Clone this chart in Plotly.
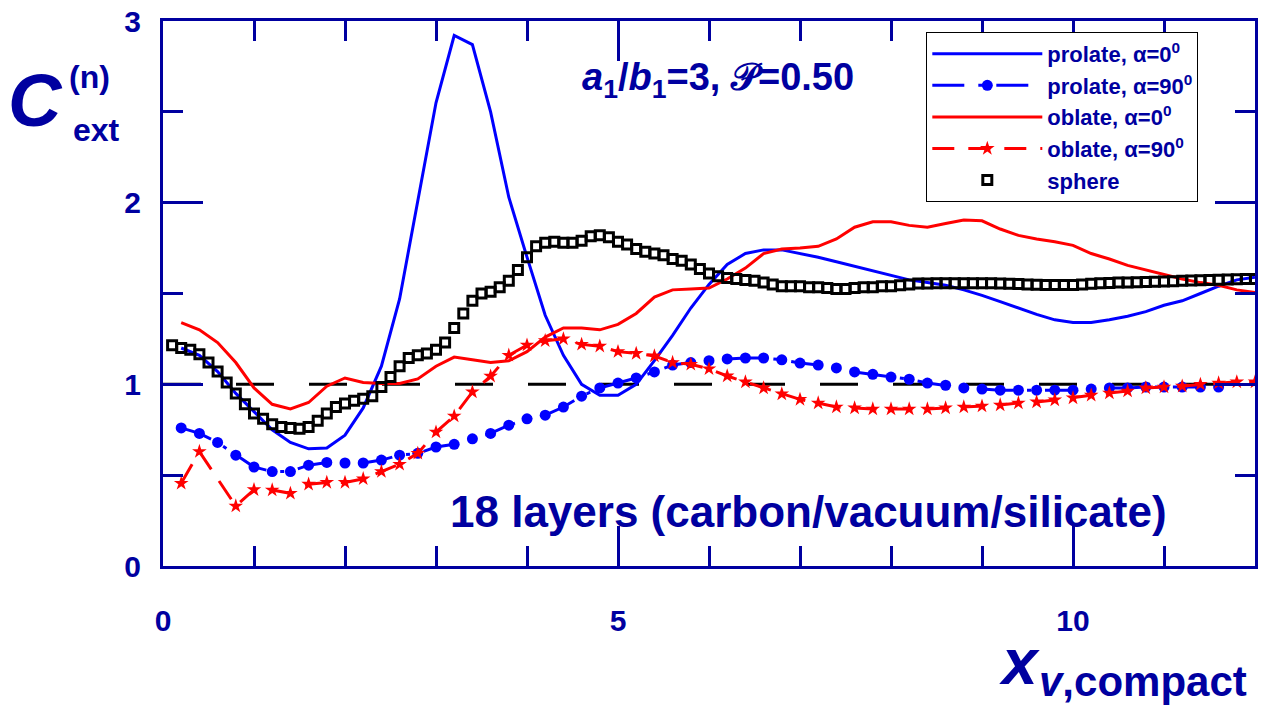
import plotly.graph_objects as go

# ---------------- data ----------------
sphere_x = [round(0.1 * i, 1) for i in range(1, 121)]
sphere_y = [1.215, 1.20, 1.19, 1.165, 1.12, 1.07, 1.01, 0.95, 0.89, 0.84,
            0.81, 0.78, 0.765, 0.76, 0.755, 0.765, 0.80, 0.84, 0.875, 0.895,
            0.91, 0.92, 0.935, 0.985, 1.04, 1.10, 1.145, 1.16, 1.17, 1.19,
            1.23, 1.31, 1.39, 1.46, 1.50, 1.51, 1.535, 1.57, 1.63, 1.70,
            1.76, 1.78, 1.785, 1.78, 1.78, 1.79, 1.815, 1.82, 1.81, 1.785,
            1.77, 1.745, 1.73, 1.72, 1.71, 1.69, 1.68, 1.66, 1.635, 1.61,
            1.595, 1.585, 1.58, 1.575, 1.57, 1.56, 1.55, 1.54, 1.54, 1.54,
            1.535, 1.535, 1.53, 1.525, 1.525, 1.53, 1.535, 1.535, 1.54, 1.54,
            1.545, 1.55, 1.555, 1.555, 1.557, 1.557, 1.557, 1.557, 1.557, 1.557,
            1.557, 1.555, 1.553, 1.552, 1.55, 1.548, 1.547, 1.547, 1.547, 1.547,
            1.55, 1.553, 1.557, 1.558, 1.56, 1.56, 1.562, 1.563, 1.565, 1.566,
            1.568, 1.57, 1.572, 1.573, 1.575, 1.576, 1.577, 1.578, 1.58, 1.58]

prolate0_x = [0.2, 0.4, 0.6, 0.8, 1.0, 1.2, 1.4, 1.6, 1.8, 2.0, 2.2, 2.4, 2.6, 2.8,
              3.0, 3.2, 3.4, 3.6, 3.8, 4.0, 4.2, 4.4, 4.6, 4.8, 5.0, 5.2, 5.4, 5.6,
              5.8, 6.0, 6.2, 6.4, 6.6, 6.8, 7.0, 7.2, 7.4, 7.6, 7.8, 8.0, 8.2, 8.4,
              8.6, 8.8, 9.0, 9.2, 9.4, 9.6, 9.8, 10.0, 10.2, 10.4, 10.6, 10.8, 11.0,
              11.2, 11.4, 11.6, 11.8, 12.0]
prolate0_y = [1.20, 1.16, 1.07, 0.95, 0.85, 0.75, 0.68, 0.645, 0.65, 0.72, 0.87, 1.10,
              1.47, 2.01, 2.55, 2.92, 2.87, 2.50, 2.03, 1.70, 1.38, 1.16, 1.00, 0.94,
              0.94, 1.00, 1.13, 1.27, 1.42, 1.55, 1.66, 1.72, 1.74, 1.74, 1.72, 1.70,
              1.675, 1.65, 1.625, 1.60, 1.575, 1.56, 1.545, 1.52, 1.49, 1.455, 1.42,
              1.385, 1.355, 1.34, 1.34, 1.355, 1.375, 1.40, 1.435, 1.46, 1.50, 1.54,
              1.575, 1.59]

prolate90_x = [0.2, 0.4, 0.6, 0.8, 1.0, 1.2, 1.4, 1.6, 1.8, 2.0, 2.2, 2.4, 2.6, 2.8,
               3.0, 3.2, 3.4, 3.6, 3.8, 4.0, 4.2, 4.4, 4.6, 4.8, 5.0, 5.2, 5.4, 5.6,
               5.8, 6.0, 6.2, 6.4, 6.6, 6.8, 7.0, 7.2, 7.4, 7.6, 7.8, 8.0, 8.2, 8.4,
               8.6, 8.8, 9.0, 9.2, 9.4, 9.6, 9.8, 10.0, 10.2, 10.4, 10.6, 10.8, 11.0,
               11.2, 11.4, 11.6]
prolate90_y = [0.76, 0.73, 0.68, 0.61, 0.545, 0.52, 0.52, 0.555, 0.57, 0.567, 0.567,
               0.583, 0.61, 0.62, 0.655, 0.67, 0.70, 0.73, 0.775, 0.81, 0.83, 0.875,
               0.935, 0.98, 1.007, 1.035, 1.068, 1.106, 1.12, 1.13, 1.14, 1.145, 1.145,
               1.135, 1.117, 1.106, 1.09, 1.068, 1.055, 1.04, 1.028, 1.007, 0.995, 0.98,
               0.974, 0.968, 0.968, 0.968, 0.968, 0.968, 0.974, 0.98, 0.98, 0.985,
               0.985, 0.985, 0.985, 0.985]

oblate0_x = prolate0_x
oblate0_y = [1.34, 1.30, 1.23, 1.12, 0.98, 0.89, 0.865, 0.90, 0.99, 1.035, 1.01, 1.005,
             1.005, 1.03, 1.10, 1.15, 1.135, 1.12, 1.13, 1.18, 1.26, 1.31, 1.31, 1.30,
             1.33, 1.39, 1.48, 1.52, 1.525, 1.53, 1.58, 1.64, 1.72, 1.745, 1.75, 1.76,
             1.80, 1.865, 1.895, 1.895, 1.875, 1.865, 1.885, 1.905, 1.90, 1.855, 1.82,
             1.80, 1.785, 1.765, 1.72, 1.69, 1.655, 1.63, 1.605, 1.58, 1.56, 1.545,
             1.52, 1.505]

oblate90_x = [0.2, 0.4, 0.8, 1.0, 1.2, 1.4, 1.6, 1.8, 2.0, 2.2, 2.4, 2.6, 2.8,
              3.0, 3.2, 3.4, 3.6, 3.8, 4.0, 4.2, 4.4, 4.6, 4.8, 5.0, 5.2, 5.4, 5.6,
              5.8, 6.0, 6.2, 6.4, 6.6, 6.8, 7.0, 7.2, 7.4, 7.6, 7.8, 8.0, 8.2, 8.4,
              8.6, 8.8, 9.0, 9.2, 9.4, 9.6, 9.8, 10.0, 10.2, 10.4, 10.6, 10.8, 11.0,
              11.2, 11.4, 11.6, 11.8, 12.0]
oblate90_y = [0.455, 0.63, 0.33, 0.42, 0.418, 0.40, 0.45, 0.46, 0.46, 0.48, 0.52, 0.56,
              0.62, 0.737, 0.825, 0.958, 1.045, 1.16, 1.216, 1.24, 1.25, 1.22, 1.21,
              1.18, 1.17, 1.156, 1.12, 1.11, 1.085, 1.046, 1.013, 0.98, 0.947, 0.917,
              0.897, 0.875, 0.87, 0.864, 0.864, 0.864, 0.864, 0.87, 0.875, 0.88, 0.886,
              0.897, 0.903, 0.914, 0.925, 0.94, 0.952, 0.963, 0.98, 0.985, 0.99, 1.0,
              1.007, 1.013, 1.013]

ref_x = [0, 12]
ref_y = [1, 1]

x_tick_vals = [0, 5, 10]
y_tick_vals = [0, 1, 2, 3]

legend_names = ["prolate, α=0<sup>0</sup>", "prolate, α=90<sup>0</sup>",
                "oblate, α=0<sup>0</sup>", "oblate, α=90<sup>0</sup>", "sphere"]

# ---------------- styles ----------------
NAVY = "#0000A0"
FONT = "Liberation Sans, Arial, sans-serif"

fig = go.Figure()

fig.add_trace(go.Scatter(x=ref_x, y=ref_y, mode="lines", showlegend=False,
                         line=dict(color="black", width=3, dash="38px,35px"),
                         hoverinfo="skip"))

fig.add_trace(go.Scatter(x=prolate0_x, y=prolate0_y, mode="lines", name=legend_names[0],
                         legendgroup="g1", line=dict(color="#0000FF", width=3)))
fig.add_trace(go.Scatter(x=prolate90_x, y=prolate90_y, mode="lines+markers",
                         name=legend_names[1], legendgroup="g2",
                         line=dict(color="#0000FF", width=3, dash="32px,14px,4px,14px"),
                         marker=dict(symbol="circle", size=11, color="#0000FF")))
fig.add_trace(go.Scatter(x=oblate0_x, y=oblate0_y, mode="lines", name=legend_names[2],
                         legendgroup="g3", line=dict(color="#FF0000", width=3)))
fig.add_trace(go.Scatter(x=oblate90_x, y=oblate90_y, mode="lines+markers",
                         name=legend_names[3], legendgroup="g4",
                         line=dict(color="#FF0000", width=3, dash="22px,14px"),
                         marker=dict(symbol="star", size=11, color="#FF0000")))
fig.add_trace(go.Scatter(x=sphere_x, y=sphere_y, mode="markers", name=legend_names[4],
                         legendgroup="g5",
                         marker=dict(symbol="square-open", size=9, color="black",
                                     line=dict(width=3, color="black"))))

axis_common = dict(
    showline=True, linecolor=NAVY, linewidth=3, mirror="ticks",
    ticks="inside", ticklen=40, tickwidth=3, tickcolor=NAVY,
    showgrid=False, zeroline=False, automargin=False,
    tickfont=dict(family=FONT, size=30, color=NAVY, weight="bold"),
)

fig.update_xaxes(range=[0, 12], tickvals=x_tick_vals, ticklabelstandoff=26,
                 minor=dict(dtick=1, tick0=0, ticks="inside", ticklen=20, tickwidth=3,
                            tickcolor=NAVY, showgrid=False),
                 **axis_common)
fig.update_yaxes(range=[0, 3], tickvals=y_tick_vals, ticklabelstandoff=13,
                 minor=dict(dtick=0.5, tick0=0, ticks="inside", ticklen=20, tickwidth=3,
                            tickcolor=NAVY, showgrid=False),
                 **axis_common)

def ann(text, x, y, size, xanchor="center", yanchor="middle"):
    return dict(text=text, x=x, y=y, xref="paper", yref="paper", showarrow=False,
                xanchor=xanchor, yanchor=yanchor,
                font=dict(family=FONT, size=size, color=NAVY, weight="bold"))

annotations = [
    ann("<i>C</i>", -0.117, 0.855, 74),
    ann("(n)", -0.067, 0.898, 32),
    ann("ext", -0.061, 0.800, 32),
    ann("<i>x</i>", 0.784, -0.176, 64),
    ann("<i>v</i>,compact", 0.800, -0.212, 42, xanchor="left"),
    ann("<i>a</i><sub>1</sub>/<i>b</i><sub>1</sub>=3, 𝒫=0.50", 0.508, 0.892, 38),
    ann("18 layers (carbon/vacuum/silicate)", 0.591, 0.100, 44),
]

fig.update_layout(
    width=1261, height=711,
    margin=dict(l=163, r=6, t=21, b=145, autoexpand=False),
    paper_bgcolor="white", plot_bgcolor="white",
    font=dict(family=FONT, color=NAVY),
    annotations=annotations,
    showlegend=True,
    legend=dict(x=0.699, y=0.98, xanchor="left", yanchor="top",
                bgcolor="white", bordercolor="black", borderwidth=1,
                font=dict(family=FONT, size=22, color=NAVY, weight="bold"),
                itemwidth=110, tracegroupgap=12, traceorder="normal"),
)

fig.write_html(
    "out.html",
    config={"displayModeBar": False},
    post_script="document.body.style.margin='0';document.body.style.padding='0';"
                "document.body.style.overflow='hidden';",
)
